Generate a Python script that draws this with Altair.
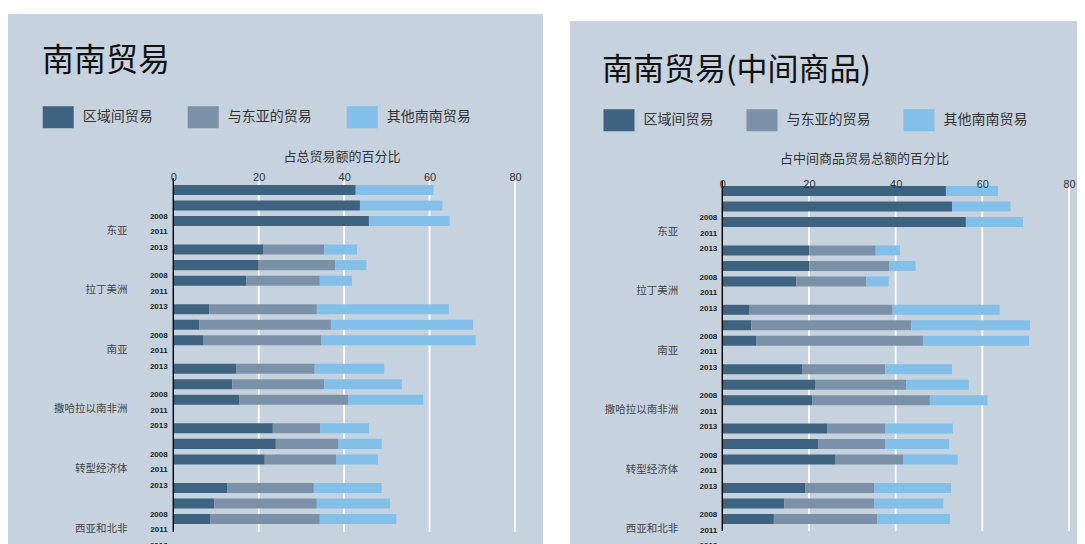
import altair as alt
import pandas as pd

regions = ["东亚", "拉丁美洲", "南亚", "撒哈拉以南非洲", "转型经济体", "西亚和北非"]
years = ["2008", "2011", "2013"]
categories = ["区域间贸易", "与东亚的贸易", "其他南南贸易"]
colors = ["#3d6380", "#7b91a8", "#82bfe9"]
bg_color = "#c6d2de"

# Left panel: share of total trade (segment lengths, region x year order)
total_interregional = [42.7, 43.7, 45.8, 21.0, 20.0, 17.1, 8.4, 6.1, 7.1,
                       14.7, 13.8, 15.4, 23.3, 24.0, 21.4, 12.6, 9.6, 8.6]
total_with_east_asia = [0, 0, 0, 14.3, 17.9, 17.2, 25.2, 30.8, 27.5,
                        18.4, 21.5, 25.5, 11.1, 14.7, 16.7, 20.3, 24.0, 25.7]
total_other_south = [18.2, 19.3, 18.9, 7.7, 7.3, 7.5, 30.9, 33.3, 36.2,
                     16.3, 18.2, 17.6, 11.4, 10.1, 9.8, 15.9, 17.1, 17.9]

# Right panel: share of intermediate goods trade
inter_interregional = [51.6, 53.0, 56.2, 20.1, 20.1, 17.1, 6.3, 6.7, 7.9,
                       18.4, 21.4, 20.8, 24.2, 22.1, 26.0, 19.1, 14.3, 11.9]
inter_with_east_asia = [0, 0, 0, 15.3, 18.4, 16.1, 33.0, 36.9, 38.4,
                        19.2, 21.0, 27.1, 13.4, 15.5, 15.7, 16.0, 20.8, 23.9]
inter_other_south = [12.0, 13.5, 13.2, 5.6, 6.1, 5.2, 24.7, 27.4, 24.5,
                     15.4, 14.5, 13.3, 15.6, 14.7, 12.6, 17.7, 15.9, 16.7]

tick_values = [0, 20, 40, 60, 80]
grid_values = [20, 40, 60, 80]

CJK = "Noto Sans CJK SC"
LAT = "Liberation Sans"


def long_table(series):
    rows = []
    for ci, vals in enumerate(series):
        k = 0
        for r in regions:
            for y in years:
                rows.append({"region": r, "year": y, "category": categories[ci],
                             "corder": ci, "value": vals[k]})
                k += 1
    return pd.DataFrame(rows)


def panel(title, axis_title, series, c):
    df = long_table(series)
    W, H = c["W"], 536

    xscale = alt.Scale(domain=[0, 80], range=[c["x0"], c["x1"]], nice=False)
    xaxis = alt.Axis(orient="top", offset=-c["axis_y"], domain=False, ticks=False,
                     tickSize=0, grid=False, values=tick_values,
                     labelFont=LAT, labelFontSize=11, labelColor="#333",
                     labelPadding=3, labelBaseline="middle", labelFlush=False,
                     labelOverlap=False,
                     title=axis_title, titleFont=CJK, titleFontSize=13,
                     titleFontWeight="normal", titleColor="#333",
                     titleX=c["title_x"], titleY=c["title_y"],
                     titleAlign="center", titleBaseline="middle", zindex=1)

    bg = alt.Chart(pd.DataFrame({"a": [0]})).mark_rect(color=bg_color).encode(
        x=alt.value(0), x2=alt.value(W), y=alt.value(c["bg_top"]), y2=alt.value(H + 40))

    grid = alt.Chart(pd.DataFrame({"value": grid_values})).mark_rule(
        color="white", strokeWidth=1.8).encode(
        x=alt.X("value:Q", scale=xscale, axis=xaxis),
        y=alt.value(c["rule_top"]), y2=alt.value(c["rule_bot"]))

    bars = alt.Chart(df).mark_bar().encode(
        x=alt.X("value:Q", stack="zero", scale=xscale, axis=xaxis),
        y=alt.Y("region:N", sort=regions, axis=None,
                scale=alt.Scale(range=[c["y0"], c["y1"]], paddingInner=0.31, paddingOuter=0)),
        yOffset=alt.YOffset("year:N", sort=years,
                            scale=alt.Scale(paddingInner=0.355, paddingOuter=0)),
        color=alt.Color("category:N", sort=categories,
                        scale=alt.Scale(domain=categories, range=colors),
                        legend=alt.Legend(orient="none", legendX=c["lx"], legendY=c["ly"],
                                          direction="horizontal", columns=3, title=None,
                                          symbolType="M-1,-0.71H1V0.71H-1Z", symbolSize=961,
                                          symbolStrokeWidth=0, symbolOpacity=1,
                                          labelFont=CJK, labelFontSize=14, labelColor="#333",
                                          labelOffset=9, columnPadding=c["colpad"], padding=0)),
        order=alt.Order("corder:Q"),
    )

    axis_line = alt.Chart(pd.DataFrame({"value": [0]})).mark_rule(
        color="black", strokeWidth=1.4).encode(
        x=alt.X("value:Q", scale=xscale, axis=xaxis),
        y=alt.value(c["rule_top"] - 2), y2=alt.value(c["rule_bot"]))

    lab_df = pd.DataFrame([{"region": r, "year": y} for r in regions for y in years])
    year_labels = alt.Chart(lab_df).mark_text(
        align="right", baseline="middle", dy=c["dy_year"], font=LAT, fontSize=8,
        fontWeight="bold", color="#222").encode(
        x=alt.value(c["year_x"]),
        y=alt.Y("region:N", sort=regions, axis=None),
        yOffset=alt.YOffset("year:N", sort=years),
        text="year:N")

    region_labels = alt.Chart(pd.DataFrame({"region": regions})).mark_text(
        align="right", baseline="middle", dy=c["dy_region"], font=CJK, fontSize=10.5,
        color="#444").encode(
        x=alt.value(c["region_x"]),
        y=alt.Y("region:N", sort=regions, axis=None),
        text="region:N")

    title_mark = alt.Chart(pd.DataFrame({"t": [title]})).mark_text(
        align="left", baseline="middle", font=CJK, fontSize=c["tsize"], color="#111").encode(
        x=alt.value(c["tx"]), y=alt.value(c["ty"]), text="t:N")

    return alt.layer(bg, grid, bars, axis_line, year_labels, region_labels, title_mark).properties(
        width=W, height=H)


left_cfg = dict(W=535, bg_top=6, x0=165.3, x1=507, y0=177, y1=516, axis_y=172,
                title_x=333.5, title_y=-23.3, rule_top=172, rule_bot=524,
                lx=34.7, ly=93.5, colpad=35, dy_year=26.6, dy_region=25.2,
                year_x=159.7, region_x=119.5, tx=34, ty=53, tsize=32)
right_cfg = dict(W=507, bg_top=13, x0=152.3, x1=499, y0=178, y1=516, axis_y=179,
                 title_x=294, title_y=-28.7, rule_top=175, rule_bot=523,
                 lx=33.5, ly=96.5, colpad=33, dy_year=27.2, dy_region=25.6,
                 year_x=147.3, region_x=108.3, tx=32, ty=63.3, tsize=31)

left = panel("南南贸易", "占总贸易额的百分比",
             [total_interregional, total_with_east_asia, total_other_south], left_cfg)
right = panel("南南贸易(中间商品)", "占中间商品贸易总额的百分比",
              [inter_interregional, inter_with_east_asia, inter_other_south], right_cfg)

chart = alt.hconcat(left, right, spacing=27).resolve_scale(
    x="independent", y="independent", color="independent", yOffset="independent"
).properties(padding=0, background="white").configure_view(stroke=None)

chart.save("out.html", embed_options={"renderer": "svg", "actions": False})
